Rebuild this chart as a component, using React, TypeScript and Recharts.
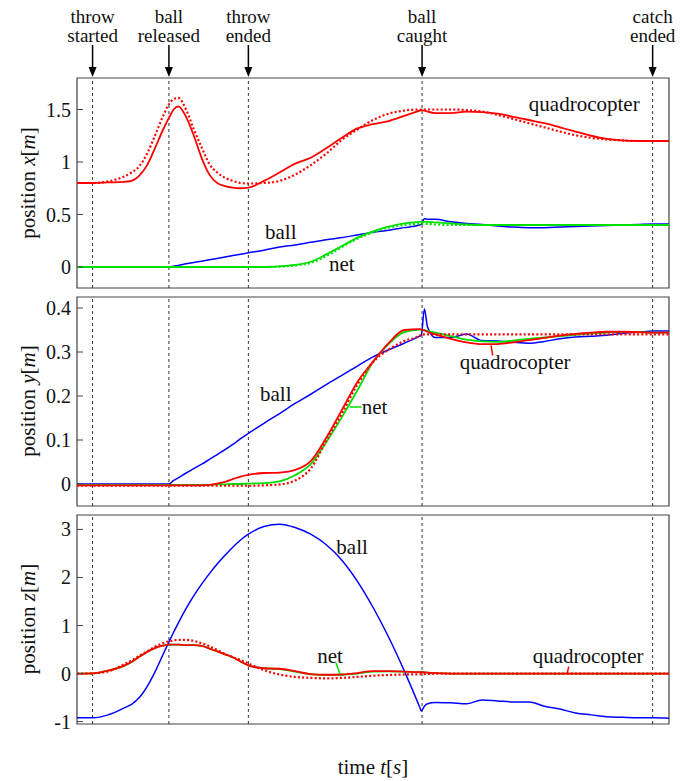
import React from 'react';
import { LineChart, Line, XAxis, YAxis, ReferenceLine, ReferenceDot, ReferenceArea } from 'recharts';

// time grid [s]
const time = [
  0, 0.1, 0.2, 0.3, 0.35, 0.4, 0.45, 0.5, 0.55, 0.59,
  0.62, 0.65, 0.7, 0.75, 0.8, 0.85, 0.9, 0.95, 1.0, 1.05,
  1.1, 1.2, 1.3, 1.4, 1.5, 1.6, 1.7, 1.8, 1.9, 2.0,
  2.1, 2.2, 2.21, 2.23, 2.25, 2.3, 2.4, 2.5, 2.6, 2.7,
  2.8, 2.9, 3.0, 3.1, 3.2, 3.3, 3.4, 3.5, 3.6, 3.7, 3.8,
];

// position x
const xQuad = [
  0.80, 0.80, 0.805, 0.81, 0.82, 0.87, 0.97, 1.13, 1.30, 1.42,
  1.50, 1.53, 1.43, 1.25, 1.04, 0.88, 0.80, 0.77, 0.755, 0.75,
  0.755, 0.82, 0.90, 0.985, 1.04, 1.13, 1.23, 1.32, 1.36, 1.39,
  1.44, 1.49, 1.495, 1.49, 1.48, 1.465, 1.465, 1.48, 1.475, 1.46,
  1.43, 1.40, 1.37, 1.33, 1.29, 1.25, 1.22, 1.205, 1.20, 1.20, 1.20,
];
const xQuadRef = [
  0.80, 0.80, 0.815, 0.86, 0.90, 0.96, 1.08, 1.25, 1.43, 1.55,
  1.60, 1.61, 1.50, 1.31, 1.14, 0.98, 0.90, 0.85, 0.82, 0.80,
  0.795, 0.80, 0.82, 0.88, 0.97, 1.08, 1.21, 1.31, 1.40, 1.46,
  1.49, 1.50, 1.50, 1.50, 1.50, 1.50, 1.50, 1.495, 1.48, 1.45,
  1.41, 1.37, 1.33, 1.29, 1.255, 1.23, 1.215, 1.205, 1.20, 1.20, 1.20,
];
const xBall = [
  0, 0, 0, 0, 0, 0, 0, 0, 0, 0,
  0.008, 0.015, 0.03, 0.043, 0.055, 0.068, 0.08, 0.095, 0.11, 0.122,
  0.135, 0.16, 0.19, 0.21, 0.235, 0.26, 0.28, 0.305, 0.33, 0.35,
  0.375, 0.40, 0.405, 0.46, 0.455, 0.455, 0.43, 0.415, 0.405, 0.39,
  0.38, 0.375, 0.375, 0.38, 0.385, 0.39, 0.395, 0.40, 0.405, 0.41, 0.41,
];
const xNet = [
  0, 0, 0, 0, 0, 0, 0, 0, 0, 0,
  0, 0, 0, 0, 0, 0, 0, 0, 0, 0,
  0, 0, 0.005, 0.02, 0.05, 0.12, 0.2, 0.28, 0.34, 0.385,
  0.415, 0.43, 0.43, 0.43, 0.43, 0.425, 0.415, 0.405, 0.40, 0.40,
  0.40, 0.40, 0.40, 0.40, 0.40, 0.40, 0.40, 0.40, 0.40, 0.40, 0.40,
];
const xNetRef = [
  0, 0, 0, 0, 0, 0, 0, 0, 0, 0,
  0, 0, 0, 0, 0, 0, 0, 0, 0, 0,
  0, 0, 0.004, 0.015, 0.04, 0.105, 0.19, 0.27, 0.33, 0.375,
  0.40, 0.41, 0.41, 0.41, 0.41, 0.405, 0.40, 0.40, 0.40, 0.40,
  0.40, 0.40, 0.40, 0.40, 0.40, 0.40, 0.40, 0.40, 0.40, 0.40, 0.40,
];

// position y
const yQuad = [
  -0.003, -0.003, -0.003, -0.003, -0.003, -0.003, -0.003, -0.003, -0.003, -0.003,
  -0.003, -0.003, -0.003, -0.003, -0.003, -0.002, 0.001, 0.005, 0.011, 0.017,
  0.021, 0.025, 0.026, 0.032, 0.052, 0.105, 0.168, 0.232, 0.278, 0.32,
  0.35, 0.352, 0.351, 0.349, 0.346, 0.34, 0.33, 0.322, 0.318, 0.318,
  0.322, 0.327, 0.332, 0.337, 0.341, 0.344, 0.346, 0.346, 0.345, 0.344, 0.344,
];
const yQuadRef = [
  -0.004, -0.004, -0.004, -0.004, -0.004, -0.004, -0.004, -0.004, -0.004, -0.004,
  -0.004, -0.004, -0.004, -0.004, -0.004, -0.004, -0.004, -0.004, -0.004, -0.004,
  -0.004, -0.003, -0.001, 0.008, 0.035, 0.098, 0.16, 0.226, 0.277, 0.305,
  0.325, 0.337, 0.34, 0.34, 0.34, 0.34, 0.34, 0.34, 0.34, 0.34,
  0.34, 0.34, 0.34, 0.34, 0.34, 0.34, 0.34, 0.34, 0.34, 0.34, 0.34,
];
const yBall = [
  0, 0, 0, 0, 0, 0, 0, 0, 0, 0,
  0.008, 0.014, 0.025, 0.035, 0.045, 0.056, 0.067, 0.078, 0.09, 0.103,
  0.115, 0.138, 0.16, 0.183, 0.204, 0.226, 0.247, 0.268, 0.289, 0.305,
  0.32, 0.336, 0.338, 0.398, 0.357, 0.333, 0.333, 0.341, 0.326, 0.325,
  0.322, 0.32, 0.324, 0.33, 0.334, 0.336, 0.338, 0.342, 0.345, 0.348, 0.348,
];
const yNet = [
  -0.002, -0.002, -0.002, -0.002, -0.002, -0.002, -0.002, -0.002, -0.002, -0.002,
  -0.002, -0.002, -0.002, -0.002, -0.002, -0.002, -0.001, -0.001, 0, 0,
  0.001, 0.002, 0.006, 0.02, 0.045, 0.095, 0.152, 0.213, 0.277, 0.318,
  0.345, 0.351, 0.351, 0.35, 0.348, 0.344, 0.336, 0.328, 0.324, 0.323,
  0.326, 0.33, 0.333, 0.336, 0.339, 0.342, 0.344, 0.345, 0.345, 0.344, 0.344,
];

// position z
const zQuad = [
  0, 0.005, 0.06, 0.16, 0.24, 0.35, 0.45, 0.53, 0.58, 0.60,
  0.60, 0.60, 0.59, 0.59, 0.575, 0.52, 0.46, 0.40, 0.34, 0.25,
  0.17, 0.11, 0.10, 0.05, -0.01, -0.025, -0.02, 0.01, 0.05, 0.05,
  0.04, 0.03, 0.03, 0.025, 0.02, 0.01, 0, 0, 0, 0,
  0, 0, 0, 0, 0, 0, 0, 0, 0, 0, 0,
];
const zQuadRef = [
  0, 0.005, 0.045, 0.19, 0.27, 0.37, 0.46, 0.56, 0.63, 0.67,
  0.69, 0.70, 0.70, 0.68, 0.63, 0.57, 0.49, 0.41, 0.34, 0.28,
  0.21, 0.07, -0.02, -0.07, -0.09, -0.10, -0.09, -0.07, -0.045, -0.03,
  -0.02, -0.015, -0.013, -0.01, -0.008, -0.004, 0, 0, 0, 0,
  0, 0, 0, 0, 0, 0, 0, 0, 0, 0, 0,
];
const zBall = [
  -0.92, -0.92, -0.86, -0.72, -0.64, -0.50, -0.27, 0.03, 0.38, 0.66,
  0.86, 1.05, 1.35, 1.62, 1.86, 2.08, 2.28, 2.46, 2.63, 2.78,
  2.90, 3.06, 3.11, 3.04, 2.90, 2.68, 2.36, 1.92, 1.38, 0.76,
  0.06, -0.70, -0.78, -0.68, -0.63, -0.60, -0.61, -0.63, -0.55, -0.57,
  -0.59, -0.59, -0.68, -0.74, -0.82, -0.86, -0.90, -0.91, -0.92, -0.92, -0.93,
];
const zNet = [
  0, 0.005, 0.06, 0.16, 0.24, 0.35, 0.45, 0.53, 0.58, 0.60,
  0.60, 0.60, 0.59, 0.59, 0.575, 0.52, 0.46, 0.40, 0.34, 0.25,
  0.17, 0.11, 0.09, 0.04, -0.015, -0.03, -0.025, 0, 0.04, 0.045,
  0.04, 0.03, 0.03, 0.025, 0.02, 0.01, 0, 0, 0, 0,
  0, 0, 0, 0, 0, 0, 0, 0, 0, 0, 0,
];

const events = [0.1, 0.59, 1.1, 2.215, 3.695];
const eventNames = [
  ['throw', 'started'],
  ['ball', 'released'],
  ['throw', 'ended'],
  ['ball', 'caught'],
  ['catch', 'ended'],
];
const timeTicks = [0, 0.5, 1, 1.5, 2, 2.5, 3, 3.5];
const xTicks = [0, 0.5, 1, 1.5];
const yTicks = [0, 0.1, 0.2, 0.3, 0.4];
const zTicks = [-1, 0, 1, 2, 3];
const timeDomain: [number, number] = [0, 3.8];

const FONT = "'Liberation Serif', 'DejaVu Serif', serif";
const INK = '#111';
const FRAME = '#444';
const RED = '#ff0000';
const BLUE = '#0000ff';
const GREEN = '#00e000';

const rows = (cols: Record<string, number[]>) =>
  time.map((t, i) => {
    const r: Record<string, number> = { t };
    Object.keys(cols).forEach((k) => (r[k] = cols[k][i]));
    return r;
  });

const bottomTick = (showLabel: boolean) => (p: any) => (
  <g>
    <line x1={p.x} x2={p.x} y1={p.y} y2={p.y - 6} stroke={FRAME} strokeWidth={1} />
    {showLabel && (
      <text x={p.x} y={p.y + 24} textAnchor="middle" style={{ fontFamily: FONT }} fontSize={20} fill={INK}>
        {String(p.payload.value)}
      </text>
    )}
  </g>
);
const topTick = (p: any) => <line x1={p.x} x2={p.x} y1={p.y} y2={p.y + 6} stroke={FRAME} strokeWidth={1} />;
const leftTick = (p: any) => (
  <g>
    <line x1={p.x} x2={p.x + 6} y1={p.y} y2={p.y} stroke={FRAME} strokeWidth={1} />
    <text x={p.x - 6} y={p.y + 7} textAnchor="end" style={{ fontFamily: FONT }} fontSize={20} fill={INK}>
      {String(p.payload.value)}
    </text>
  </g>
);
const rightTick = (p: any) => <line x1={p.x} x2={p.x - 6} y1={p.y} y2={p.y} stroke={FRAME} strokeWidth={1} />;

// text placed next to a curve, optionally with a short leader line
const textMark = (text: string, dx: number, dy: number, leader?: [number, number], color?: string) => (p: any) => (
  <g>
    {leader && (
      <line x1={p.cx} y1={p.cy} x2={p.cx + leader[0]} y2={p.cy + leader[1]} stroke={color} strokeWidth={1.5} />
    )}
    <text
      x={p.cx + dx}
      y={p.cy + dy}
      textAnchor="middle"
      dominantBaseline="central"
      style={{ fontFamily: FONT }}
      fontSize={21}
      fill={INK}
    >
      {text}
    </text>
  </g>
);

// event name above the top panel, arrow pointing down
const eventMark = (lines: string[]) => (p: any) => (
  <g>
    <text x={p.cx} y={p.cy - 62} textAnchor="middle" dominantBaseline="central" style={{ fontFamily: FONT }} fontSize={19} fill={INK}>
      {lines[0]}
    </text>
    <text x={p.cx} y={p.cy - 43} textAnchor="middle" dominantBaseline="central" style={{ fontFamily: FONT }} fontSize={19} fill={INK}>
      {lines[1]}
    </text>
    <line x1={p.cx} x2={p.cx} y1={p.cy - 33} y2={p.cy - 9} stroke="#000" strokeWidth={1.5} />
    <polygon points={`${p.cx - 4},${p.cy - 11} ${p.cx + 4},${p.cy - 11} ${p.cx},${p.cy - 1}`} fill="#000" />
  </g>
);

type Series = { key: string; color: string; dashed?: boolean };

interface PanelProps {
  top: number;
  height: number;
  marginTop: number;
  marginBottom: number;
  domain: [number, number];
  ticks: number[];
  data: Record<string, number>[];
  series: Series[];
  marks: { x: number; y: number; shape: (p: any) => React.ReactElement }[];
  showTime?: boolean;
}

function Panel({ top, height, marginTop, marginBottom, domain, ticks, data, series, marks, showTime }: PanelProps) {
  return (
    <div style={{ position: 'absolute', left: 0, top }}>
      <LineChart
        width={693}
        height={height}
        data={data}
        margin={{ top: marginTop, right: 24, bottom: marginBottom, left: 0 }}
      >
        <XAxis
          dataKey="t"
          type="number"
          domain={timeDomain}
          ticks={timeTicks}
          interval={0}
          allowDataOverflow
          height={0}
          tickSize={0}
          tickMargin={0}
          tickLine={false}
          axisLine={false}
          tick={bottomTick(!!showTime)}
        />
        <XAxis
          xAxisId="top"
          orientation="top"
          dataKey="t"
          type="number"
          domain={timeDomain}
          ticks={timeTicks}
          interval={0}
          allowDataOverflow
          height={0}
          tickSize={0}
          tickMargin={0}
          tickLine={false}
          axisLine={false}
          tick={topTick}
        />
        <YAxis
          type="number"
          domain={domain}
          ticks={ticks}
          interval={0}
          allowDataOverflow
          width={77}
          tickSize={0}
          tickMargin={0}
          tickLine={false}
          axisLine={false}
          tick={leftTick}
        />
        <YAxis
          yAxisId="right"
          orientation="right"
          type="number"
          domain={domain}
          ticks={ticks}
          interval={0}
          allowDataOverflow
          width={0}
          tickSize={0}
          tickMargin={0}
          tickLine={false}
          axisLine={false}
          tick={rightTick}
        />
        <ReferenceArea
          x1={timeDomain[0]}
          x2={timeDomain[1]}
          y1={domain[0]}
          y2={domain[1]}
          fill="none"
          fillOpacity={0}
          stroke={FRAME}
          strokeWidth={1.2}
          ifOverflow="visible"
        />
        {events.map((e) => (
          <ReferenceLine key={e} x={e} stroke="#333" strokeDasharray="3 3" strokeWidth={1} />
        ))}
        {series.map((s) => (
          <Line
            key={s.key}
            type="monotone"
            dataKey={s.key}
            stroke={s.color}
            strokeWidth={s.dashed ? 2.2 : s.color === BLUE ? 1.5 : 1.8}
            strokeDasharray={s.dashed ? '2 2.2' : undefined}
            dot={false}
            activeDot={false}
            isAnimationActive={false}
          />
        ))}
        {marks.map((m, i) => (
          <ReferenceDot key={i} x={m.x} y={m.y} r={0} ifOverflow="visible" shape={m.shape} />
        ))}
      </LineChart>
    </div>
  );
}

function AxisTitle({ name, unit, cx, cy, rotate }: { name: string; unit: string; cx: number; cy: number; rotate?: boolean }) {
  const prefix = rotate ? 'position' : 'time';
  return (
    <div
      style={{
        position: 'absolute',
        left: cx,
        top: cy,
        transform: `translate(-50%, -50%)${rotate ? ' rotate(-90deg)' : ''}`,
        whiteSpace: 'nowrap',
        fontFamily: FONT,
        fontSize: 21,
        color: INK,
        lineHeight: 1,
      }}
    >
      {prefix} <i>{name}</i>[<i>{unit}</i>]
    </div>
  );
}

export default function App() {
  const dataX = rows({ xBall, xNet, xNetRef, xQuadRef, xQuad });
  const dataY = rows({ yBall, yNet, yQuadRef, yQuad });
  const dataZ = rows({ zBall, zNet, zQuadRef, zQuad });

  return (
    <div style={{ position: 'absolute', left: 0, top: 0, width: 693, height: 781, background: '#fff', fontFamily: FONT }}>
      <Panel
        top={0}
        height={290}
        marginTop={78}
        marginBottom={2}
        domain={[-0.2, 1.8]}
        ticks={xTicks}
        data={dataX}
        series={[
          { key: 'xBall', color: BLUE },
          { key: 'xNet', color: GREEN },
          { key: 'xNetRef', color: GREEN, dashed: true },
          { key: 'xQuadRef', color: RED, dashed: true },
          { key: 'xQuad', color: RED },
        ]}
        marks={[
          ...events.map((e, i) => ({ x: e, y: 1.8, shape: eventMark(eventNames[i]) })),
          { x: 3.256, y: 1.55, shape: textMark('quadrocopter', 0, 0) },
          { x: 1.308, y: 0.337, shape: textMark('ball', 0, 0) },
          { x: 1.7, y: 0.03, shape: textMark('net', 0, 0) },
        ]}
      />
      <Panel
        top={290}
        height={218}
        marginTop={7}
        marginBottom={2}
        domain={[-0.05, 0.425]}
        ticks={yTicks}
        data={dataY}
        series={[
          { key: 'yBall', color: BLUE },
          { key: 'yNet', color: GREEN },
          { key: 'yQuadRef', color: RED, dashed: true },
          { key: 'yQuad', color: RED },
        ]}
        marks={[
          { x: 1.276, y: 0.204, shape: textMark('ball', 0, 0) },
          { x: 1.75, y: 0.175, shape: textMark('net', 25, 0, [12, 0], GREEN) },
          { x: 2.658, y: 0.315, shape: textMark('quadrocopter', 24, 17, [1.6, 10], RED) },
        ]}
      />
      <Panel
        top={508}
        height={273}
        marginTop={7}
        marginBottom={57}
        domain={[-1.05, 3.3]}
        ticks={zTicks}
        data={dataZ}
        series={[
          { key: 'zBall', color: BLUE },
          { key: 'zNet', color: GREEN },
          { key: 'zQuadRef', color: RED, dashed: true },
          { key: 'zQuad', color: RED },
        ]}
        marks={[
          { x: 1.766, y: 2.63, shape: textMark('ball', 0, 0) },
          { x: 1.688, y: -0.01, shape: textMark('net', -10, -18, [-4, -11], GREEN) },
          { x: 3.146, y: 0, shape: textMark('quadrocopter', 21, -18, [1.6, -7], RED) },
        ]}
        showTime
      />
      <AxisTitle name="x" unit="m" cx={28} cy={183} rotate />
      <AxisTitle name="y" unit="m" cx={28} cy={401} rotate />
      <AxisTitle name="z" unit="m" cx={28} cy={619} rotate />
      <AxisTitle name="t" unit="s" cx={373} cy={767} />
    </div>
  );
}
